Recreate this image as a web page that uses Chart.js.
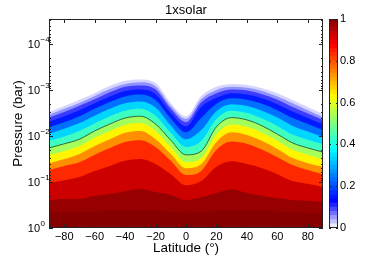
<!DOCTYPE html>
<html>
<head>
<meta charset="utf-8">
<script src="https://cdn.jsdelivr.net/npm/chart.js@4.4.1/dist/chart.umd.min.js"></script>
<style>
  body { margin: 0; background: #fff; }
  #wrap { position: relative; width: 382px; height: 257px; }
  #grafico { position: absolute; left: 0; top: 0; }
  #barra { position: absolute; left: 329px; top: 0; }
</style>
</head>
<body>
<div id="wrap">
  <canvas id="grafico" width="382" height="257"></canvas>
  <canvas id="barra" width="53" height="257"></canvas>
</div>
<script>
const lats = [-90, -80, -70, -60, -50, -40, -30, -20, -10, 0, 10, 20, 30, 40, 50, 60, 70, 80, 90];

// contour levels of the field
const levels = [0.01, 0.04, 0.08, 0.125, 0.2, 0.3, 0.4, 0.5, 0.6, 0.7, 0.8, 0.9, 0.97, 0.99];

// log10(pressure in bar) of each contour level at every latitude
const c001 = [-2.52, -2.65, -2.79, -2.93, -3.09, -3.20, -3.23, -3.15, -2.72, -2.43, -2.87, -3.07, -3.13, -3.11, -3.04, -2.93, -2.78, -2.63, -2.48];
const c004 = [-2.46, -2.59, -2.72, -2.87, -3.02, -3.13, -3.17, -3.08, -2.65, -2.37, -2.80, -3.00, -3.07, -3.05, -2.98, -2.86, -2.71, -2.56, -2.41];
const c008 = [-2.40, -2.52, -2.66, -2.80, -2.95, -3.07, -3.10, -3.01, -2.59, -2.30, -2.73, -2.93, -3.01, -2.99, -2.91, -2.79, -2.63, -2.49, -2.35];
const c0125 = [-2.31, -2.43, -2.56, -2.71, -2.86, -2.98, -3.01, -2.91, -2.50, -2.21, -2.63, -2.83, -2.93, -2.90, -2.82, -2.69, -2.53, -2.39, -2.25];
const c02 = [-2.19, -2.30, -2.43, -2.59, -2.74, -2.86, -2.90, -2.78, -2.38, -2.08, -2.39, -2.70, -2.82, -2.79, -2.70, -2.56, -2.39, -2.26, -2.13];
const c03 = [-2.05, -2.16, -2.28, -2.44, -2.59, -2.71, -2.75, -2.62, -2.23, -1.93, -2.13, -2.54, -2.69, -2.65, -2.55, -2.40, -2.22, -2.10, -1.98];
const c04 = [-1.90, -1.99, -2.11, -2.27, -2.43, -2.55, -2.59, -2.44, -2.07, -1.76, -1.89, -2.37, -2.55, -2.50, -2.38, -2.22, -2.03, -1.92, -1.82];
const c05 = [-1.74, -1.83, -1.93, -2.11, -2.26, -2.39, -2.43, -2.26, -1.91, -1.59, -1.67, -2.20, -2.40, -2.35, -2.22, -2.04, -1.85, -1.74, -1.65];
const c06 = [-1.59, -1.67, -1.78, -1.96, -2.11, -2.24, -2.28, -2.11, -1.76, -1.43, -1.52, -2.04, -2.25, -2.20, -2.07, -1.89, -1.70, -1.59, -1.50];
const c07 = [-1.41, -1.50, -1.61, -1.78, -1.93, -2.07, -2.11, -1.93, -1.61, -1.30, -1.39, -1.87, -2.08, -2.02, -1.89, -1.72, -1.52, -1.41, -1.33];
const c08 = [-1.26, -1.35, -1.43, -1.59, -1.74, -1.87, -1.91, -1.76, -1.46, -1.15, -1.24, -1.70, -1.88, -1.83, -1.70, -1.54, -1.37, -1.26, -1.17];
const c09 = [-0.98, -1.04, -1.11, -1.24, -1.35, -1.46, -1.50, -1.39, -1.17, -0.93, -1.02, -1.33, -1.45, -1.39, -1.30, -1.17, -1.02, -0.96, -0.89];
const c097 = [-0.61, -0.63, -0.63, -0.70, -0.74, -0.80, -0.85, -0.78, -0.72, -0.61, -0.67, -0.76, -0.84, -0.76, -0.70, -0.65, -0.61, -0.59, -0.57];
const c099 = [-0.33, -0.34, -0.35, -0.36, -0.37, -0.38, -0.38, -0.37, -0.36, -0.33, -0.34, -0.37, -0.38, -0.38, -0.37, -0.36, -0.34, -0.33, -0.32];

const contours = [c001, c004, c008, c0125, c02, c03, c04, c05, c06, c07, c08, c09, c097, c099];

// axis ticks
const xTicks = [-80, -60, -40, -20, 0, 20, 40, 60, 80];
const yTicks = [1e-4, 1e-3, 1e-2, 1e-1, 1];
const yExps = ['\u22124', '\u22123', '\u22122', '\u22121', '0'];
const cbarTicks = [0, 0.2, 0.4, 0.6, 0.8, 1];
const cbarLabels = ['0', '0.2', '0.4', '0.6', '0.8', '1'];

const fonte = "'Liberation Sans', Arial, sans-serif";
Chart.defaults.font.family = fonte;
Chart.defaults.color = '#000';

// jet, with the lowest eighth fading from white to blue
function cmap(v) {
  if (v < 0.125) {
    const c = Math.round(255 * (1 - v / 0.125));
    return `rgb(${c},${c},255)`;
  }
  const clamp = x => Math.max(0, Math.min(1, x));
  const r = clamp(1.5 - Math.abs(4 * v - 3));
  const g = clamp(1.5 - Math.abs(4 * v - 2));
  const b = clamp(1.5 - Math.abs(4 * v - 1));
  return `rgb(${Math.round(r * 255)},${Math.round(g * 255)},${Math.round(b * 255)})`;
}

const toPoints = arr => arr.map((lp, i) => ({ x: lats[i], y: Math.pow(10, lp) }));

// each level paints from its contour down to 1 bar, higher levels on top
const datasets = contours.map((c, k) => {
  const lo = levels[k];
  const hi = levels[k + 1] || 1;
  return {
    data: toPoints(c),
    borderWidth: 0,
    borderColor: 'transparent',
    pointRadius: 0,
    backgroundColor: cmap(lo + 0.35 * (hi - lo)),
    fill: { value: 1 },
    cubicInterpolationMode: 'monotone',
    order: 50 - k
  };
});

// the 0.5 contour line
datasets.push({
  data: toPoints(c05),
  borderWidth: 0.9,
  borderColor: 'rgba(35,55,35,0.85)',
  pointRadius: 0,
  fill: false,
  cubicInterpolationMode: 'monotone',
  order: 0
});

// box, inward ticks and 10^n labels like matlab
const boxPlugin = {
  id: 'box',
  afterDatasetsDraw(chart) {
    const { ctx, chartArea: a, scales: { x, y } } = chart;
    ctx.save();
    ctx.strokeStyle = '#222';
    ctx.lineWidth = 1;
    ctx.beginPath();
    xTicks.forEach(v => {
      const px = Math.round(x.getPixelForValue(v)) + 0.5;
      ctx.moveTo(px, a.bottom); ctx.lineTo(px, a.bottom - 4);
      ctx.moveTo(px, a.top); ctx.lineTo(px, a.top + 4);
    });
    for (let e = -5; e <= 0; e++) {
      for (let m = 1; m <= 9; m++) {
        const v = m * Math.pow(10, e);
        if (v < y.min || v > y.max) continue;
        const py = Math.round(y.getPixelForValue(v)) + 0.5;
        const len = m === 1 ? 4 : 2;
        ctx.moveTo(a.left, py); ctx.lineTo(a.left + len, py);
        ctx.moveTo(a.right, py); ctx.lineTo(a.right - len, py);
      }
    }
    ctx.stroke();
    ctx.strokeRect(Math.round(a.left) + 0.5, Math.round(a.top) + 0.5,
      Math.round(a.right - a.left) - 1, Math.round(a.bottom - a.top) - 1);
    ctx.restore();
  },
  afterDraw(chart) {
    const { ctx, scales: { y } } = chart;
    ctx.save();
    ctx.fillStyle = '#000';
    ctx.textBaseline = 'middle';
    yTicks.forEach((v, i) => {
      const py = y.getPixelForValue(v);
      ctx.font = `11px ${fonte}`;
      ctx.textAlign = 'right';
      ctx.fillText('10', 40, py + 1);
      ctx.font = `8px ${fonte}`;
      ctx.textAlign = 'left';
      ctx.fillText(yExps[i], 40.5, py - 4);
    });
    ctx.restore();
  }
};

const ctx = document.getElementById('grafico').getContext('2d');
const chart = new Chart(ctx, {
  type: 'line',
  data: { datasets: datasets },
  options: {
    responsive: false,
    animation: false,
    layout: { padding: { left: 0, right: 59, top: 0, bottom: 0 } },
    plugins: {
      legend: { display: false },
      tooltip: { enabled: false },
      title: {
        display: true,
        text: '1xsolar',
        fullSize: false,
        color: '#000',
        font: { size: 13, weight: 'normal' },
        padding: { top: 3, bottom: 0.4 }
      }
    },
    scales: {
      x: {
        type: 'linear',
        min: -90,
        max: 90,
        afterBuildTicks: s => { s.ticks = xTicks.map(v => ({ value: v })); },
        afterFit: s => { s.height = 29; },
        grid: { display: false, drawTicks: false },
        border: { display: false },
        ticks: {
          font: { size: 11 },
          padding: 2,
          maxRotation: 0,
          callback: v => String(v).replace('-', '\u2212')
        },
        title: { display: true, text: 'Latitude (°)', font: { size: 13.5 }, padding: { top: 0, bottom: 1 } }
      },
      y: {
        type: 'logarithmic',
        reverse: true,
        min: 2.86e-5,
        max: 1,
        afterBuildTicks: s => { s.ticks = yTicks.map(v => ({ value: v })); },
        afterFit: s => { s.width = 49; },
        grid: { display: false, drawTicks: false },
        border: { display: false },
        ticks: { display: false },
        title: { display: true, text: 'Pressure (bar)', font: { size: 13.5 }, padding: { top: 10, bottom: 0 } }
      }
    }
  },
  plugins: [boxPlugin]
});

// colorbar
const cbarSteps = 50;
const cbarDatasets = [];
for (let i = 0; i < cbarSteps; i++) {
  cbarDatasets.push({
    data: [1 / cbarSteps],
    backgroundColor: cmap((i + 0.5) / cbarSteps),
    borderWidth: 0,
    barPercentage: 1,
    categoryPercentage: 1
  });
}

const cbarBox = {
  id: 'cbarBox',
  afterDatasetsDraw(c) {
    const { ctx, chartArea: a, scales: { y } } = c;
    ctx.save();
    ctx.strokeStyle = '#222';
    ctx.lineWidth = 1;
    ctx.beginPath();
    cbarTicks.forEach(v => {
      const py = Math.round(y.getPixelForValue(v)) + 0.5;
      ctx.moveTo(a.left, py); ctx.lineTo(a.left + 2, py);
      ctx.moveTo(a.right, py); ctx.lineTo(a.right - 2, py);
    });
    ctx.stroke();
    ctx.strokeRect(Math.round(a.left) + 0.5, Math.round(a.top) + 0.5,
      Math.round(a.right - a.left) - 1, Math.round(a.bottom - a.top) - 1);
    ctx.restore();
  }
};

const barraCtx = document.getElementById('barra').getContext('2d');
new Chart(barraCtx, {
  type: 'bar',
  data: { labels: [''], datasets: cbarDatasets },
  options: {
    responsive: false,
    animation: false,
    layout: { padding: { top: 19, bottom: 29, left: 0, right: 0 } },
    plugins: { legend: { display: false }, tooltip: { enabled: false } },
    scales: {
      x: { stacked: true, display: false },
      y: {
        stacked: true,
        position: 'right',
        min: 0,
        max: 1,
        afterBuildTicks: s => { s.ticks = cbarTicks.map(v => ({ value: v })); },
        afterFit: s => { s.width = 44; },
        grid: { display: false, drawTicks: false },
        border: { display: false },
        ticks: { font: { size: 11 }, padding: 2, callback: (v, i) => cbarLabels[i] }
      }
    }
  },
  plugins: [cbarBox]
});
</script>
</body>
</html>
